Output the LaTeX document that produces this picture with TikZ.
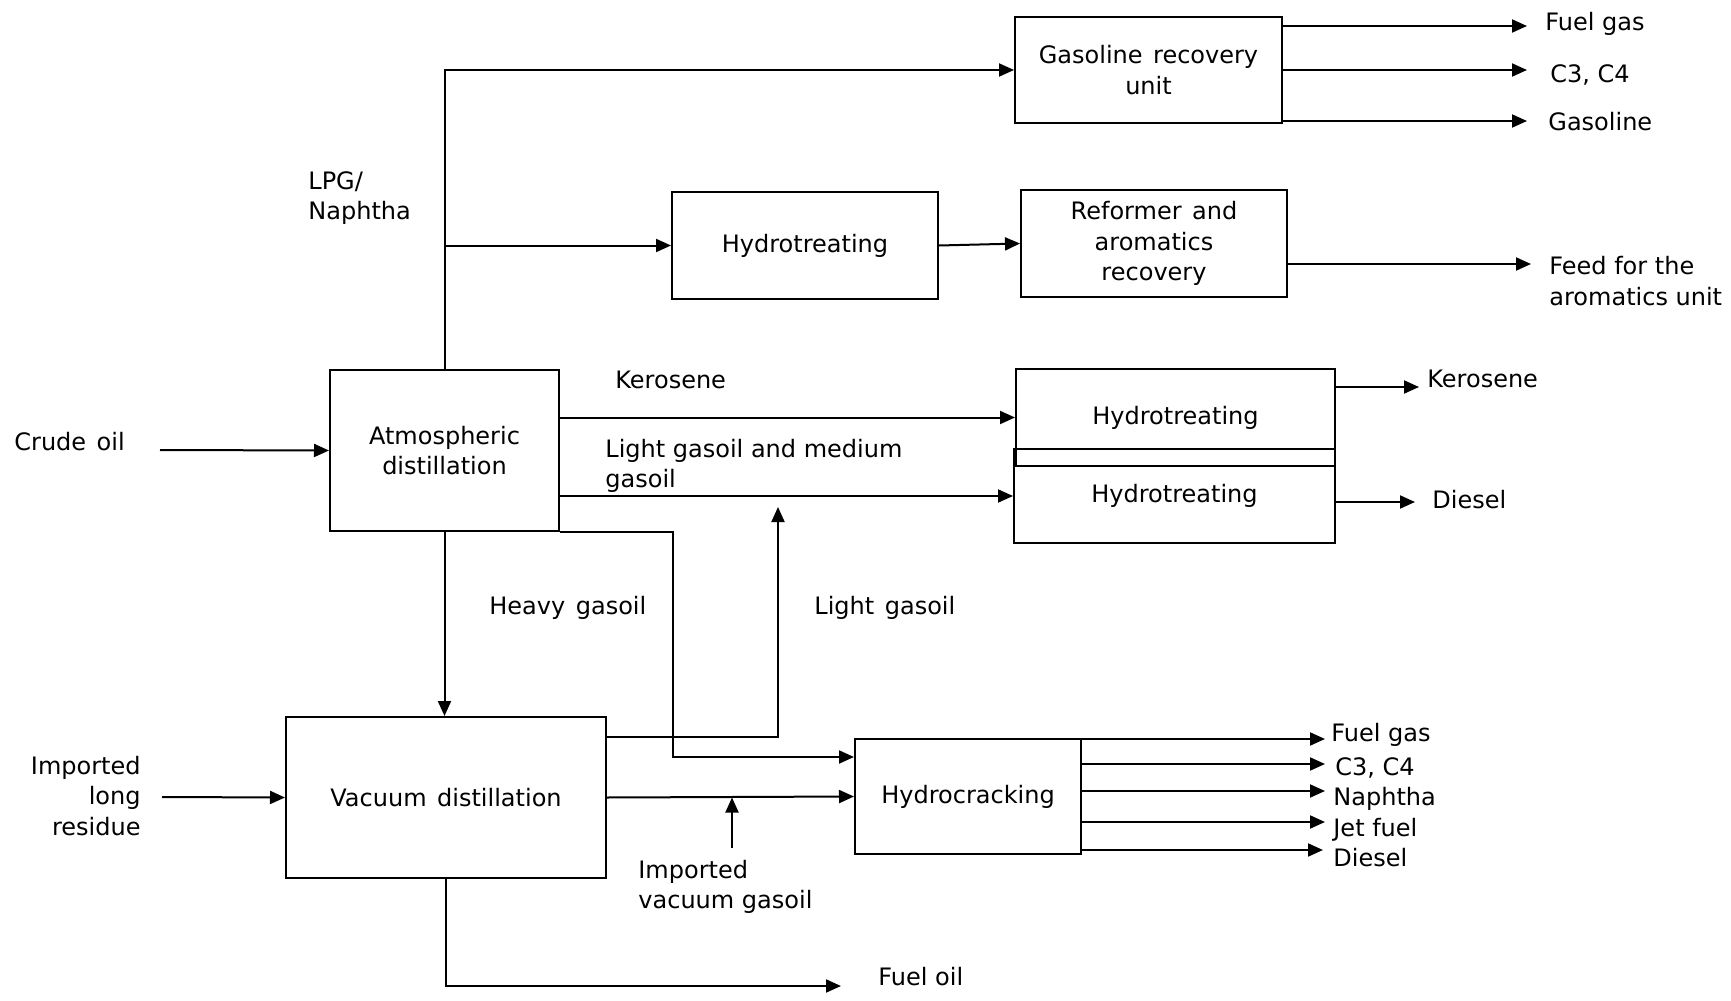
\documentclass[tikz,border=0pt]{standalone}
\usepackage{fontspec}
\setmainfont{DejaVu Sans}
\usetikzlibrary{arrows.meta}
\newcommand\widesp{\hspace{0.12em}}
\begin{document}
\begin{tikzpicture}[x=0.5pt,y=-0.5pt,
  every node/.style={font=\fontsize{12pt}{15.2pt}\selectfont},
  unit/.style={draw, line width=1pt, inner sep=0pt, align=center},
  flow/.style={line width=1pt, -{Triangle[length=7.5pt,width=6.5pt]}},
  lbl/.style={anchor=west, inner sep=0pt, text height=8.7pt, text depth=0pt},
  mlbl/.style={anchor=west, inner sep=0pt, align=left}]
\useasboundingbox (0,0) rectangle (1731,1001);

% process units
\node[unit, minimum width=133.5pt, minimum height=53pt] (gru) at (1148.5,70) {Gasoline\widesp{} recovery\\unit};
\node[unit, minimum width=133pt, minimum height=53.5pt] (ht1) at (805,245.5) {Hydrotreating};
\node[unit, minimum width=133pt, minimum height=53.5pt] (ref) at (1154,243.5) {Reformer\widesp{} and\\aromatics\\recovery};
\node[unit, minimum width=114.5pt, minimum height=80.5pt] (atm) at (444.5,450.5) {Atmospheric\\distillation};
\node[unit, minimum width=159.5pt, minimum height=48.5pt] (htk) at (1175.5,417.5) {Hydrotreating};
\node[unit, minimum width=160.5pt, minimum height=47pt] (htd) at (1174.5,496) {Hydrotreating};
\node[unit, minimum width=160pt, minimum height=80.5pt] (vac) at (446,797.5) {Vacuum\widesp{} distillation};
\node[unit, minimum width=113pt, minimum height=57.5pt] (hc) at (968,796.5) {Hydrocracking};

% feeds and product ends
\coordinate (crude) at (160,450);
\coordinate (ilr) at (162,797);
\coordinate (ivgo) at (732,848);
\coordinate (fo) at (841,986);
\coordinate (lgo) at (778,507);
\coordinate (hbend) at (673,757);
\coordinate (gfg) at (1527,26);
\coordinate (gc3) at (1527,70);
\coordinate (ggas) at (1527,121);
\coordinate (aro) at (1531,264);
\coordinate (kero) at (1419,387);
\coordinate (dsl) at (1415,502);
\coordinate (hfg) at (1325,739);
\coordinate (hc3) at (1325,764);
\coordinate (hnap) at (1325,791);
\coordinate (hjet) at (1325,822);
\coordinate (hdsl) at (1323,850);

% streams
\draw[flow] (crude) -- (atm.west);
\draw[flow] (ilr) -- (vac.west);
\draw[flow] (atm.north) |- (gru.west);
\draw[flow] (atm.north |- ht1.west) -- (ht1.west);
\draw[flow] (ht1.east) -- (ref.west);
\draw[flow] (atm.east |- htk.west) -- (htk.west);
\draw[flow] (atm.east |- htd.west) -- (htd.west);
\draw[flow] (atm.south) -- (atm.south |- vac.north);
\draw[flow] (atm.south east) -| (hbend) -- (hc.west |- hbend);
\draw[flow] (vac.east |- 0,737) -| (lgo);
\draw[flow] (vac.east) -- (hc.west);
\draw[flow] (ivgo) -- (ivgo |- vac.east);
\draw[flow] (vac.south) |- (fo);

\draw[flow] (gru.east |- gfg) -- (gfg);
\draw[flow] (gru.east |- gc3) -- (gc3);
\draw[flow] (gru.east |- ggas) -- (ggas);
\draw[flow] (ref.east |- aro) -- (aro);
\draw[flow] (htk.east |- kero) -- (kero);
\draw[flow] (htd.east |- dsl) -- (dsl);
\draw[flow] (hc.east |- hfg) -- (hfg);
\draw[flow] (hc.east |- hc3) -- (hc3);
\draw[flow] (hc.east |- hnap) -- (hnap);
\draw[flow] (hc.east |- hjet) -- (hjet);
\draw[flow] (hc.east |- hdsl) -- (hdsl);

% stream labels
\node[lbl] (tcrude) at (14,442) {Crude\widesp{} oil};
\node[inner sep=0pt, align=right, anchor=east] (tilr) at (141,796) {Imported\\long\\residue};
\node[mlbl] (tlpg) at (308,198) {LPG/\\Naphtha};
\node[lbl] (tkero) at (615,380) {Kerosene};
\node[mlbl] (tlgmg) at (605,466) {Light gasoil and medium\\gasoil};
\node[lbl] (thgo) at (489,606) {Heavy\widesp{} gasoil};
\node[lbl] (tlgo) at (814,606) {Light\widesp{} gasoil};
\node[mlbl] (tivgo) at (638,887) {Imported\\vacuum gasoil};
\node[lbl] (tfo) at (878,977) {Fuel oil};

\node[lbl] (tgfg) at (1545,22) {Fuel gas};
\node[lbl] (tgc3) at (1550,74) {C3, C4};
\node[lbl] (tggas) at (1548,122) {Gasoline};
\node[mlbl] (taro) at (1549,281) {Feed for the\\aromatics unit};
\node[lbl] (tkout) at (1427,379) {Kerosene};
\node[lbl] (tdout) at (1432,500) {Diesel};

\node[lbl] (thfg) at (1331,733) {Fuel gas};
\node[lbl] (thc3) at (1335,767) {C3, C4};
\node[lbl] (thnap) at (1333,797) {Naphtha};
\node[lbl] (thjet) at (1333,828) {Jet fuel};
\node[lbl] (thdsl) at (1333,858) {Diesel};
\end{tikzpicture}
\end{document}
